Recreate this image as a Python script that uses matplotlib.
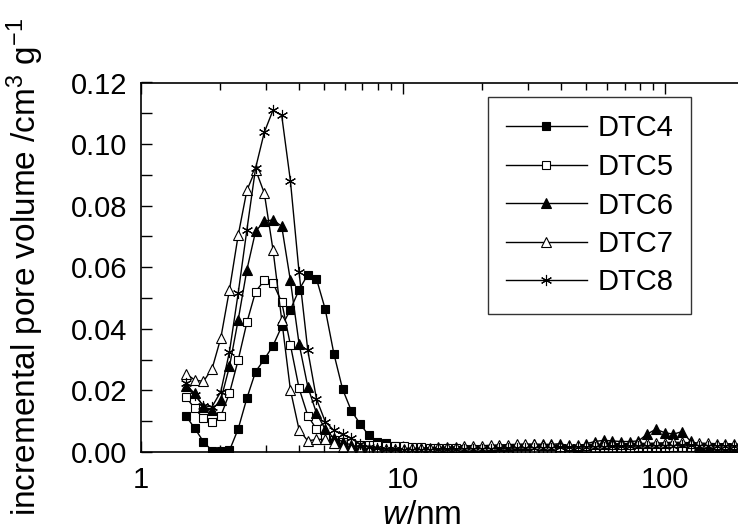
import matplotlib
matplotlib.use("Agg")
import matplotlib.pyplot as plt
from matplotlib.ticker import MultipleLocator, LogLocator, NullFormatter, FixedLocator, FixedFormatter

plt.rcParams['font.family'] = ['Liberation Sans', 'DejaVu Sans']
plt.rcParams['mathtext.fontset'] = 'custom'
plt.rcParams['mathtext.rm'] = 'Liberation Sans'
plt.rcParams['mathtext.it'] = 'Liberation Sans:italic'

# pore width grid (nm)
w = [1.485, 1.603, 1.730, 1.867, 2.016, 2.176, 2.349, 2.536, 2.737, 2.954,
     3.189, 3.443, 3.716, 4.011, 4.330, 4.674, 5.046, 5.446, 5.879, 6.346,
     6.851, 7.395, 7.983, 8.617, 9.301, 10.04, 10.84, 11.70, 12.63, 13.63,
     14.72, 15.88, 17.15, 18.51, 19.98, 21.57, 23.28, 25.13, 27.13, 29.28,
     31.60, 34.12, 36.83, 39.75, 42.91, 46.32, 50.00, 53.97, 58.26, 62.89,
     67.88, 73.28, 79.10, 85.38, 92.16, 99.47, 107.4, 115.9, 125.1, 135.0,
     145.8, 157.3, 169.8, 183.3, 197.9]

dtc4 = [0.0117, 0.0077, 0.0034, 0.0004, 0.0003, 0.0005, 0.0075, 0.0175, 0.0261, 0.0301,
        0.0345, 0.0408, 0.0462, 0.0527, 0.0576, 0.0562, 0.0464, 0.0319, 0.0204, 0.0134,
        0.0092, 0.0054, 0.0034, 0.0028, 0.0020, 0.0015, 0.0013, 0.0011, 0.0010, 0.0009,
        0.0008, 0.0008, 0.0007, 0.0007, 0.0006, 0.0006, 0.0006, 0.0005, 0.0005, 0.0005,
        0.0006, 0.0006, 0.0006, 0.0007, 0.0007, 0.0008, 0.0008, 0.0009, 0.0009, 0.0010,
        0.0010, 0.0011, 0.0011, 0.0012, 0.0013, 0.0014, 0.0016, 0.0018, 0.0015, 0.0012,
        0.0010, 0.0009, 0.0008, 0.0008, 0.0007]

dtc5 = [0.0178, 0.0142, 0.0109, 0.0099, 0.0117, 0.0191, 0.0299, 0.0421, 0.0521, 0.0557,
        0.0549, 0.0487, 0.0348, 0.0207, 0.0118, 0.0074, 0.0050, 0.0040, 0.0033, 0.0028,
        0.0024, 0.0022, 0.0022, 0.0021, 0.0020, 0.0018, 0.0016, 0.0015, 0.0014, 0.0013,
        0.0012, 0.0012, 0.0011, 0.0011, 0.0010, 0.0010, 0.0010, 0.0009, 0.0009, 0.0009,
        0.0009, 0.0010, 0.0010, 0.0010, 0.0011, 0.0011, 0.0012, 0.0012, 0.0013, 0.0013,
        0.0014, 0.0014, 0.0015, 0.0015, 0.0016, 0.0016, 0.0017, 0.0016, 0.0015, 0.0014,
        0.0013, 0.0012, 0.0011, 0.0010, 0.0009]

dtc6 = [0.0215, 0.0191, 0.0147, 0.0137, 0.0169, 0.0278, 0.0429, 0.0592, 0.0717, 0.0749,
        0.0754, 0.0733, 0.0557, 0.0351, 0.0212, 0.0126, 0.0074, 0.0045, 0.0034, 0.0022,
        0.0015, 0.0011, 0.0009, 0.0008, 0.0007, 0.0007, 0.0007, 0.0008, 0.0008, 0.0009,
        0.0010, 0.0011, 0.0012, 0.0013, 0.0014, 0.0016, 0.0018, 0.0020, 0.0022, 0.0024,
        0.0025, 0.0025, 0.0025, 0.0027, 0.0020, 0.0014, 0.0027, 0.0034, 0.0038, 0.0036,
        0.0034, 0.0034, 0.0036, 0.0058, 0.0074, 0.0063, 0.0058, 0.0066, 0.0035, 0.0018,
        0.0010, 0.0008, 0.0007, 0.0006, 0.0006]

dtc7 = [0.0254, 0.0234, 0.0229, 0.0270, 0.0370, 0.0527, 0.0704, 0.0850, 0.0917, 0.0841,
        0.0657, 0.0429, 0.0202, 0.0072, 0.0036, 0.0041, 0.0041, 0.0028, 0.0015, 0.0010,
        0.0008, 0.0008, 0.0009, 0.0010, 0.0010, 0.0011, 0.0012, 0.0013, 0.0014, 0.0015,
        0.0016, 0.0017, 0.0018, 0.0019, 0.0020, 0.0022, 0.0023, 0.0024, 0.0025, 0.0026,
        0.0025, 0.0024, 0.0022, 0.0021, 0.0022, 0.0023, 0.0024, 0.0025, 0.0025, 0.0026,
        0.0026, 0.0027, 0.0028, 0.0028, 0.0029, 0.0030, 0.0032, 0.0031, 0.0030, 0.0029,
        0.0028, 0.0027, 0.0027, 0.0026, 0.0025]

dtc8 = [0.0223, 0.0185, 0.0150, 0.0147, 0.0196, 0.0326, 0.0516, 0.0722, 0.0922, 0.1038,
        0.1110, 0.1093, 0.0881, 0.0583, 0.0330, 0.0172, 0.0099, 0.0070, 0.0057, 0.0044,
        0.0025, 0.0016, 0.0012, 0.0010, 0.0009, 0.0008, 0.0008, 0.0008, 0.0008, 0.0009,
        0.0009, 0.0009, 0.0010, 0.0010, 0.0011, 0.0011, 0.0012, 0.0012, 0.0013, 0.0013,
        0.0014, 0.0014, 0.0014, 0.0015, 0.0015, 0.0016, 0.0016, 0.0017, 0.0017, 0.0018,
        0.0018, 0.0019, 0.0019, 0.0020, 0.0020, 0.0021, 0.0021, 0.0022, 0.0022, 0.0021,
        0.0021, 0.0020, 0.0020, 0.0019, 0.0019]

labels = ['DTC4', 'DTC5', 'DTC6', 'DTC7', 'DTC8']
x_ticks = [1, 10, 100]
x_ticklabels = ['1', '10', '100']

fig = plt.figure(figsize=(7.38, 5.29), dpi=100)
ax = fig.add_axes([141/738, 1 - 452/529, 603/738, (452 - 82.5)/529])

common = dict(color='black', lw=1.0, mew=0.8, mec='black')
ax.plot(w, dtc4, marker='s', ms=6, mfc='black', label=labels[0], **common)
ax.plot(w, dtc5, marker='s', ms=6, mfc='white', label=labels[1], **common)
ax.plot(w, dtc6, marker='^', ms=7.5, mfc='black', label=labels[2], **common)
ax.plot(w, dtc7, marker='^', ms=7.5, mfc='white', label=labels[3], **common)
ax.plot(w, dtc8, marker=(6, 2, 0), ms=8, mfc='none', label=labels[4], **common)

ax.set_xscale('log')
ax.set_xlim(1, 200)
ax.set_ylim(0, 0.12)
ax.xaxis.set_major_locator(FixedLocator(x_ticks))
ax.xaxis.set_major_formatter(FixedFormatter(x_ticklabels))
ax.xaxis.set_minor_locator(LogLocator(base=10, subs=range(2, 10)))
ax.xaxis.set_minor_formatter(NullFormatter())
ax.yaxis.set_major_locator(MultipleLocator(0.02))
ax.yaxis.set_major_formatter(plt.FuncFormatter(lambda v, p: f'{v:.2f}'))
ax.yaxis.set_minor_locator(MultipleLocator(0.01))

ax.tick_params(axis='both', which='major', direction='in', length=8, width=1,
               labelsize=21, pad=10, top=True)
ax.tick_params(axis='x', which='minor', direction='in', length=5, width=1, top=True)
ax.tick_params(axis='y', which='minor', direction='in', length=8, width=1)
for s in ax.spines.values():
    s.set_linewidth(1.2)

ax.set_xlabel(r'$\mathit{w}$/nm', fontsize=24)
ax.xaxis.set_label_coords((422 - 141)/603, (452 - 515)/369.5)
ax.xaxis.label.set_va('center')
ax.set_ylabel(r'incremental pore volume /cm$^{3}$ g$^{-1}$', fontsize=24)
ax.yaxis.set_label_coords((25 - 141)/603, 0.5)
ax.yaxis.label.set_va('center')

leg = ax.legend(loc='upper left', bbox_to_anchor=(488/738, 1 - 97/529),
                bbox_transform=fig.transFigure, fontsize=21, frameon=True,
                fancybox=False, edgecolor='black', handlelength=2.8,
                handletextpad=0.35, labelspacing=0.36, borderpad=0.6,
                borderaxespad=0)
leg.get_frame().set_linewidth(1.0)

fig.savefig('out.png', dpi=100)
